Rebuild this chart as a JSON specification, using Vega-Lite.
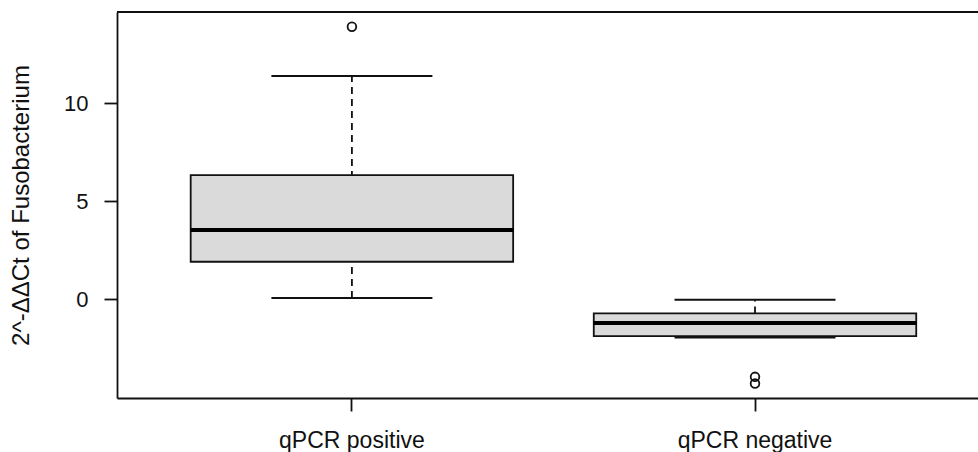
{
  "$schema": "https://vega.github.io/schema/vega-lite/v6.json",
  "width": 861,
  "height": 386,
  "autosize": {"type": "none"},
  "padding": {"left": 117, "top": 12, "right": 0, "bottom": 54},
  "background": "white",
  "config": {
    "view": {"stroke": null},
    "font": "Liberation Sans",
    "axis": {
      "domainColor": "#111111",
      "domainWidth": 1.8,
      "tickColor": "#111111",
      "tickWidth": 1.8,
      "tickSize": 13,
      "labelColor": "#111111",
      "titleColor": "#111111",
      "labelFont": "Liberation Sans",
      "titleFont": "Liberation Sans",
      "labelFontSize": 22,
      "titleFontSize": 24,
      "titleFontWeight": "normal",
      "grid": false
    }
  },
  "datasets": {
    "boxes": [
      {"group": "qPCR positive", "lower": 0.07, "q1": 1.92, "median": 3.54, "q3": 6.34, "upper": 11.39},
      {"group": "qPCR negative", "lower": -1.94, "q1": -1.87, "median": -1.2, "q3": -0.71, "upper": -0.02}
    ],
    "outliers": [
      {"group": "qPCR positive", "value": 13.91},
      {"group": "qPCR negative", "value": -3.95},
      {"group": "qPCR negative", "value": -4.29}
    ]
  },
  "encoding": {
    "x": {
      "field": "group",
      "type": "nominal",
      "sort": ["qPCR positive", "qPCR negative"],
      "scale": {"type": "band", "paddingInner": 0.2, "paddingOuter": 0.168, "align": 0.544},
      "axis": {"title": null, "labelAngle": 0, "labelPadding": 18, "labelFontSize": 23}
    }
  },
  "layer": [
    {
      "data": {"name": "boxes"},
      "mark": {"type": "rule", "color": "#111111", "strokeWidth": 1.8, "strokeDash": [7, 5]},
      "encoding": {
        "y": {
          "field": "lower",
          "type": "quantitative",
          "scale": {"domain": [-5.03, 14.66], "nice": false, "zero": false},
          "axis": {"values": [0, 5, 10], "title": "2^-ΔΔCt of Fusobacterium", "labelPadding": 16, "titlePadding": 30}
        },
        "y2": {"field": "upper"}
      }
    },
    {
      "data": {"name": "boxes"},
      "mark": {"type": "bar", "fill": "#dadada", "stroke": "#111111", "strokeWidth": 1.8},
      "encoding": {
        "y": {"field": "q1", "type": "quantitative"},
        "y2": {"field": "q3"}
      }
    },
    {
      "data": {"name": "boxes"},
      "mark": {"type": "tick", "color": "#000000", "size": 323, "thickness": 4, "opacity": 1},
      "encoding": {"y": {"field": "median", "type": "quantitative"}}
    },
    {
      "data": {"name": "boxes"},
      "mark": {"type": "tick", "color": "#111111", "size": 161, "thickness": 2, "opacity": 1},
      "encoding": {"y": {"field": "upper", "type": "quantitative"}}
    },
    {
      "data": {"name": "boxes"},
      "mark": {"type": "tick", "color": "#111111", "size": 161, "thickness": 2, "opacity": 1},
      "encoding": {"y": {"field": "lower", "type": "quantitative"}}
    },
    {
      "data": {"name": "outliers"},
      "mark": {"type": "point", "shape": "circle", "filled": false, "stroke": "#111111", "strokeWidth": 1.8, "size": 75, "opacity": 1},
      "encoding": {"y": {"field": "value", "type": "quantitative"}}
    },
    {
      "data": {"values": [{}]},
      "mark": {"type": "rule", "color": "#111111", "strokeWidth": 1.8},
      "encoding": {"y": {"datum": 14.66}, "x": null}
    }
  ]
}
